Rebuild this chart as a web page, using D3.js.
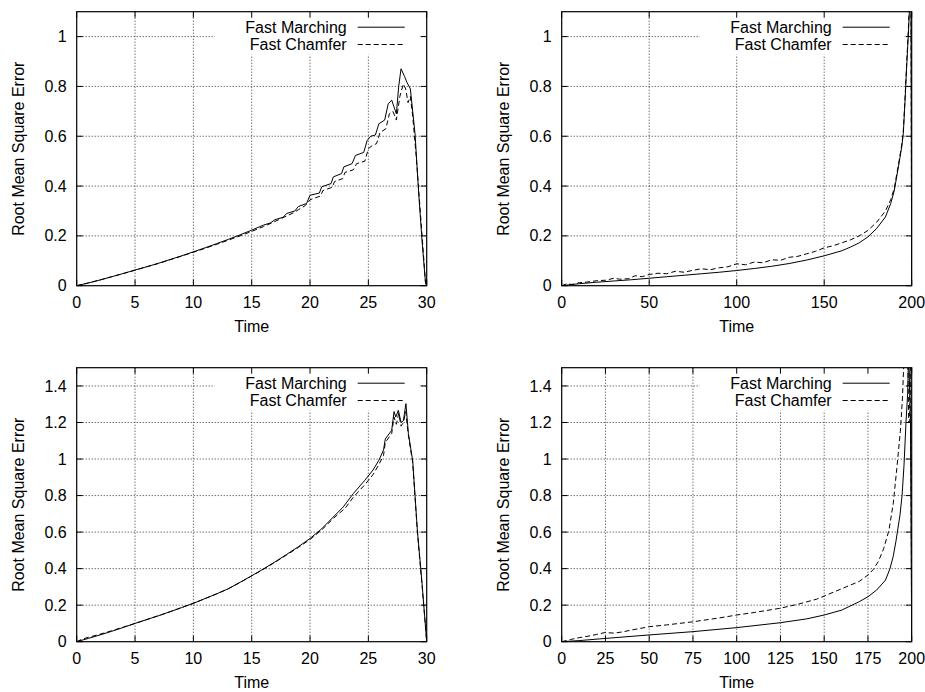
<!DOCTYPE html>
<html>
<head>
<meta charset="utf-8">
<script src="https://cdn.jsdelivr.net/npm/d3@7"></script>
<style>
  body { margin: 0; background: #fff; }
  svg { display: block; font-family: "Liberation Sans", Arial, sans-serif; font-size: 16px; }
</style>
</head>
<body>
<svg id="chart" width="925" height="692"></svg>
<script>
// [time, rmse] pairs
const tlMarching = [
  [0, 0], [1, 0.011], [2, 0.023], [3, 0.036], [4, 0.049], [5, 0.063], [6, 0.076], [7, 0.09],
  [8, 0.105], [9, 0.12], [10, 0.136], [11, 0.152], [12, 0.169], [13, 0.186], [14, 0.204],
  [15, 0.223], [16, 0.243], [16.6, 0.252], [17, 0.265], [17.7, 0.275], [18, 0.29], [18.7, 0.3],
  [19, 0.318], [19.7, 0.33], [20, 0.363], [20.8, 0.372], [21, 0.397], [21.8, 0.41], [22, 0.437],
  [22.7, 0.45], [22.9, 0.477], [23.6, 0.49], [23.9, 0.523], [24.6, 0.535], [24.9, 0.583],
  [25.2, 0.6], [25.6, 0.605], [25.9, 0.65], [26.4, 0.665], [26.7, 0.73], [27, 0.745],
  [27.4, 0.69], [27.6, 0.8], [27.8, 0.871], [28.1, 0.84], [28.3, 0.817], [28.6, 0.79],
  [29, 0.61], [29.3, 0.38], [29.6, 0.18], [29.9, 0.01], [30, 0]
];
const tlChamfer = [
  [0, 0], [1, 0.011], [2, 0.023], [3, 0.036], [4, 0.049], [5, 0.062], [6, 0.076], [7, 0.089],
  [8, 0.104], [9, 0.119], [10, 0.134], [11, 0.15], [12, 0.166], [13, 0.183], [14, 0.2],
  [15, 0.218], [16, 0.237], [17, 0.258], [18, 0.28], [18.6, 0.293], [19, 0.305], [19.6, 0.322],
  [20, 0.345], [20.9, 0.36], [21.1, 0.382], [21.9, 0.395], [22.1, 0.418], [22.8, 0.43],
  [23, 0.455], [23.7, 0.465], [24, 0.49], [24.7, 0.5], [25, 0.55], [25.4, 0.565], [25.7, 0.57],
  [26, 0.615], [26.5, 0.63], [26.8, 0.69], [27.1, 0.7], [27.4, 0.665], [27.7, 0.76], [28, 0.81],
  [28.2, 0.79], [28.4, 0.735], [28.6, 0.76], [28.8, 0.68], [29.1, 0.52], [29.4, 0.33],
  [29.7, 0.14], [29.9, 0.01], [30, 0]
];
const trMarching = [
  [0, 0], [10, 0.008], [20, 0.014], [30, 0.019], [40, 0.024], [50, 0.03], [60, 0.036],
  [70, 0.042], [80, 0.048], [90, 0.054], [100, 0.061], [110, 0.069], [120, 0.078], [130, 0.089],
  [140, 0.103], [150, 0.12], [160, 0.14], [165, 0.155], [170, 0.172], [175, 0.196], [180, 0.23],
  [185, 0.276], [188, 0.33], [190, 0.38], [192.4, 0.477], [194.3, 0.557], [195.2, 0.61],
  [196.3, 0.757], [197.1, 0.877], [198.1, 1.01], [199, 1.15], [199.5, 1.4], [200, 0]
];
const trChamfer = [
  [0, 0], [3, 0.008], [6, 0.005], [10, 0.012], [15, 0.015], [20, 0.02], [25, 0.022], [30, 0.03],
  [33, 0.026], [38, 0.028], [42, 0.04], [46, 0.036], [50, 0.045], [55, 0.05], [60, 0.048],
  [65, 0.058], [70, 0.054], [75, 0.062], [80, 0.068], [85, 0.064], [90, 0.072], [95, 0.076],
  [100, 0.088], [105, 0.084], [110, 0.095], [115, 0.092], [120, 0.104], [125, 0.102],
  [130, 0.114], [135, 0.118], [140, 0.128], [145, 0.138], [150, 0.152], [155, 0.16],
  [160, 0.172], [165, 0.184], [170, 0.2], [175, 0.222], [180, 0.255], [185, 0.3], [188, 0.345],
  [190, 0.39], [192.4, 0.485], [194.3, 0.565], [195.2, 0.62], [196.3, 0.77], [197.1, 0.89],
  [198.1, 1.03], [199, 1.2], [199.5, 1.4], [200, 0]
];
const blMarching = [
  [0, 0], [1, 0.018], [2, 0.037], [3, 0.057], [4, 0.078], [5, 0.1], [6, 0.121], [7, 0.142],
  [8, 0.164], [9, 0.187], [10, 0.21], [11, 0.236], [12, 0.262], [13, 0.29], [14, 0.325],
  [15, 0.361], [16, 0.398], [17, 0.437], [18, 0.478], [19, 0.52], [20, 0.565], [21, 0.618],
  [22, 0.683], [22.85, 0.738], [23.7, 0.81], [24.7, 0.884], [25.4, 0.94], [25.9, 0.993],
  [26.3, 1.05], [26.45, 1.11], [27, 1.157], [27.2, 1.26], [27.35, 1.23], [27.57, 1.267],
  [27.8, 1.2], [28, 1.21], [28.22, 1.303], [28.43, 1.14], [28.8, 0.99], [29.2, 0.61],
  [29.6, 0.32], [30, 0]
];
const blChamfer = [
  [0, 0], [0.5, 0.015], [1, 0.024], [2, 0.041], [3, 0.06], [4, 0.08], [5, 0.1], [6, 0.121],
  [7, 0.142], [8, 0.164], [9, 0.187], [10, 0.21], [11, 0.236], [12, 0.262], [13, 0.29],
  [14, 0.324], [15, 0.36], [16, 0.396], [17, 0.435], [18, 0.475], [19, 0.516], [20, 0.56],
  [21, 0.612], [22, 0.675], [23, 0.73], [23.7, 0.79], [24.7, 0.86], [25.4, 0.915], [25.9, 0.97],
  [26.3, 1.02], [26.45, 1.09], [27, 1.14], [27.2, 1.23], [27.4, 1.19], [27.6, 1.25], [27.8, 1.18],
  [28, 1.2], [28.2, 1.26], [28.43, 1.13], [28.8, 0.98], [29.2, 0.6], [29.6, 0.31], [30, 0]
];
const brMarching = [
  [0, 0], [10, 0.006], [25, 0.018], [50, 0.037], [75, 0.055], [100, 0.077], [125, 0.104],
  [140, 0.125], [150, 0.146], [160, 0.173], [170, 0.219], [175, 0.246], [180, 0.283],
  [185, 0.337], [187.6, 0.4], [189.5, 0.47], [191, 0.55], [193.3, 0.693], [194.5, 0.8],
  [195.6, 0.966], [196.7, 1.194], [197.7, 1.36], [198.3, 1.6], [198.8, 1.38], [199.3, 1.2],
  [200, 0]
];
const brChamfer = [
  [0, 0], [5, 0.012], [10, 0.022], [15, 0.03], [20, 0.04], [24.7, 0.05], [30, 0.047],
  [35, 0.054], [40, 0.064], [50, 0.082], [60, 0.092], [75, 0.109], [90, 0.13], [100, 0.146],
  [110, 0.16], [124.8, 0.183], [135, 0.205], [145.7, 0.233], [150, 0.25], [160, 0.29],
  [170, 0.33], [175, 0.365], [178, 0.395], [181, 0.44], [184, 0.51], [187, 0.61], [189.5, 0.76],
  [191.5, 0.95], [193.5, 1.15], [194.7, 1.33], [195.8, 1.6], [197.5, 1.7], [198.3, 1.2],
  [198.8, 1.21], [199.3, 1.7], [200, 0]
];

const legendNames = ['Fast Marching', 'Fast Chamfer'];
const xLabel = 'Time';
const yLabel = 'Root Mean Square Error';
const ticks30 = [0, 5, 10, 15, 20, 25, 30];
const ticks200 = [0, 50, 100, 150, 200];
const ticks200Fine = [0, 25, 50, 75, 100, 125, 150, 175, 200];
const ticksY11 = [0, 0.2, 0.4, 0.6, 0.8, 1];
const ticksY15 = [0, 0.2, 0.4, 0.6, 0.8, 1, 1.2, 1.4];

const W = 350, H = 274;
const panels = [
  { left: 76.7, top: 11.7, xMax: 30, yMax: 1.1, xTicks: ticks30, yTicks: ticksY11, lines: [tlMarching, tlChamfer] },
  { left: 561.7, top: 11.7, xMax: 200, yMax: 1.1, xTicks: ticks200, yTicks: ticksY11, lines: [trMarching, trChamfer] },
  { left: 76.7, top: 367.7, xMax: 30, yMax: 1.5, xTicks: ticks30, yTicks: ticksY15, lines: [blMarching, blChamfer] },
  { left: 561.7, top: 367.7, xMax: 200, yMax: 1.5, xTicks: ticks200Fine, yTicks: ticksY15, lines: [brMarching, brChamfer] }
];

const svg = d3.select('#chart');
const dashes = [null, '5,3'];
const fmt = d => String(+d.toFixed(1));

panels.forEach((p, i) => {
  const g = svg.append('g').attr('transform', `translate(${p.left},${p.top})`);
  const x = d3.scaleLinear().domain([0, p.xMax]).range([0, W]);
  const y = d3.scaleLinear().domain([0, p.yMax]).range([H, 0]);

  // dotted grid
  const grid = g.append('g')
    .attr('stroke', '#333')
    .attr('stroke-width', 1)
    .attr('stroke-dasharray', '1,2');
  grid.selectAll('.gx').data(p.xTicks.filter(t => t > 0 && t < p.xMax)).enter()
    .append('line')
    .attr('x1', d => x(d)).attr('x2', d => x(d))
    .attr('y1', 0).attr('y2', H);
  grid.selectAll('.gy').data(p.yTicks.filter(t => t > 0)).enter()
    .append('line')
    .attr('x1', 0).attr('x2', W)
    .attr('y1', d => y(d)).attr('y2', d => y(d));

  // key background hides the grid under it
  g.append('rect')
    .attr('x', 138).attr('y', 0)
    .attr('width', 205).attr('height', 43)
    .attr('fill', '#fff');

  // inward ticks on all four sides
  const ticks = g.append('g').attr('stroke', '#000').attr('stroke-width', 1);
  p.xTicks.forEach(t => {
    ticks.append('line').attr('x1', x(t)).attr('x2', x(t)).attr('y1', H).attr('y2', H - 6);
    ticks.append('line').attr('x1', x(t)).attr('x2', x(t)).attr('y1', 0).attr('y2', 6);
  });
  p.yTicks.forEach(t => {
    ticks.append('line').attr('x1', 0).attr('x2', 6).attr('y1', y(t)).attr('y2', y(t));
    ticks.append('line').attr('x1', W).attr('x2', W - 6).attr('y1', y(t)).attr('y2', y(t));
  });

  g.selectAll('.xl').data(p.xTicks).enter()
    .append('text')
    .attr('x', d => x(d)).attr('y', H + 22.5)
    .attr('text-anchor', 'middle')
    .text(d => d);
  g.selectAll('.yl').data(p.yTicks).enter()
    .append('text')
    .attr('x', -10).attr('y', d => y(d))
    .attr('dy', '0.35em')
    .attr('text-anchor', 'end')
    .text(fmt);

  g.append('text')
    .attr('x', W / 2).attr('y', H + 46)
    .attr('text-anchor', 'middle')
    .text(xLabel);
  g.append('text')
    .attr('transform', `translate(-58,${H / 2}) rotate(-90)`)
    .attr('dy', '0.35em')
    .attr('text-anchor', 'middle')
    .text(yLabel);

  // curves
  const clipId = 'clip' + i;
  g.append('clipPath').attr('id', clipId)
    .append('rect').attr('width', W).attr('height', H);
  const line = d3.line().x(d => x(d[0])).y(d => y(d[1]));
  p.lines.forEach((data, k) => {
    g.append('path')
      .datum(data)
      .attr('clip-path', `url(#${clipId})`)
      .attr('fill', 'none')
      .attr('stroke', '#000')
      .attr('stroke-width', 1)
      .attr('stroke-dasharray', dashes[k])
      .attr('d', line);
  });

  g.append('rect')
    .attr('width', W).attr('height', H)
    .attr('fill', 'none')
    .attr('stroke', '#000')
    .attr('stroke-width', 1.2);

  // key
  legendNames.forEach((name, k) => {
    const ly = 15.5 + k * 17.3;
    g.append('text')
      .attr('x', 270).attr('y', ly + 6)
      .attr('text-anchor', 'end')
      .text(name);
    g.append('line')
      .attr('x1', 281).attr('x2', 328)
      .attr('y1', ly).attr('y2', ly)
      .attr('stroke', '#000')
      .attr('stroke-width', 1)
      .attr('stroke-dasharray', dashes[k]);
  });
});
</script>
</body>
</html>
